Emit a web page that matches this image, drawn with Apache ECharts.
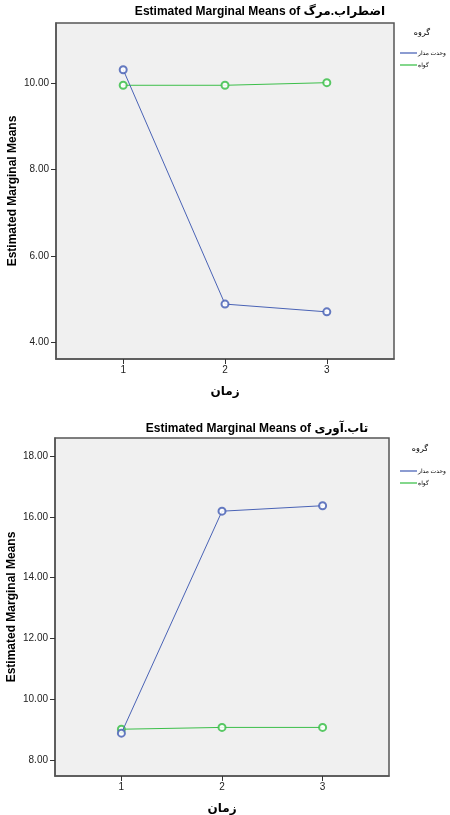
<!DOCTYPE html>
<html>
<head>
<meta charset="utf-8">
<script src="https://cdn.jsdelivr.net/npm/echarts@6/dist/echarts.min.js"></script>
<style>
  html, body { margin: 0; padding: 0; background: #fff; }
  #chart { width: 450px; height: 815px; }
</style>
</head>
<body>
<div id="chart"></div>
<script>
// times (x axis)
const times = [1, 2, 3]
const groups = ['وحدت مدار', 'گواه']
// اضطراب.مرگ
const anxietyBlue = [10.31, 4.89, 4.71]
const anxietyGreen = [9.95, 9.95, 10.01]
const anxietyTicks = [4, 6, 8, 10]
// تاب.آوری
const resilienceBlue = [8.88, 16.19, 16.37]
const resilienceGreen = [9.01, 9.07, 9.07]
const resilienceTicks = [8, 10, 12, 14, 16, 18]

const FONT = '"Liberation Sans", "DejaVu Sans", Arial, sans-serif'
const BLUE = '#4a63b6'
const GREEN = '#3cbf4a'

const chart = echarts.init(document.getElementById('chart'))

function pairs (vals) {
  return times.map((t, i) => [t, vals[i]])
}

function xAxisFor (gridIndex) {
  return {
    gridIndex: gridIndex,
    type: 'value',
    min: 0.34,
    max: 3.66,
    name: 'زمان',
    nameLocation: 'middle',
    nameGap: 27,
    nameMoveOverlap: false,
    nameTextStyle: { fontFamily: FONT, fontSize: 12, fontWeight: 'bold', color: '#000' },
    axisLine: { show: true, lineStyle: { color: '#555', width: 1.5 } },
    axisTick: { show: true, customValues: times, length: 5, lineStyle: { color: '#333' } },
    axisLabel: { customValues: times, margin: 6, fontFamily: FONT, fontSize: 10, color: '#222' },
    splitLine: { show: false }
  }
}

function yAxisFor (gridIndex, min, max, ticks) {
  return {
    gridIndex: gridIndex,
    type: 'value',
    min: min,
    max: max,
    name: 'Estimated Marginal Means',
    nameLocation: 'middle',
    nameGap: 37,
    nameMoveOverlap: false,
    nameTextStyle: { fontFamily: FONT, fontSize: 12, fontWeight: 'bold', color: '#000' },
    axisLine: { show: true, lineStyle: { color: '#555', width: 1.5 } },
    axisTick: { show: true, customValues: ticks, length: 5, lineStyle: { color: '#333' } },
    axisLabel: {
      customValues: ticks,
      margin: 7,
      fontFamily: FONT,
      fontSize: 10,
      color: '#222',
      formatter: v => v.toFixed(2)
    },
    splitLine: { show: false }
  }
}

function lineSeries (name, idx, vals, color) {
  return {
    name: name,
    type: 'line',
    xAxisIndex: idx,
    yAxisIndex: idx,
    data: pairs(vals),
    symbol: 'emptyCircle',
    symbolSize: 7,
    lineStyle: { color: color, width: 1 },
    itemStyle: { color: color, borderWidth: 0.8, opacity: 0.85 },
    emphasis: { disabled: true },
    z: name === groups[0] ? 3 : 2
  }
}

function legendFor (top) {
  return {
    left: 395,
    top: top,
    orient: 'vertical',
    icon: 'rect',
    itemWidth: 17,
    itemHeight: 1.5,
    itemGap: 6,
    textStyle: { fontFamily: FONT, fontSize: 6, color: '#000', padding: [0, 0, 0, -4] },
    data: groups
  }
}

const option = {
  animation: false,
  graphic: [
    {
      type: 'text',
      x: 260, y: 12,
      style: { text: 'Estimated Marginal Means of اضطراب.مرگ', align: 'center', verticalAlign: 'middle', font: 'bold 12px ' + FONT, fill: '#000' }
    },
    {
      type: 'text',
      x: 257, y: 429,
      style: { text: 'Estimated Marginal Means of تاب.آوری', align: 'center', verticalAlign: 'middle', font: 'bold 12px ' + FONT, fill: '#000' }
    },
    {
      type: 'text',
      x: 422, y: 33,
      style: { text: 'گروه', align: 'center', verticalAlign: 'middle', font: '8px ' + FONT, fill: '#000' }
    },
    {
      type: 'text',
      x: 420, y: 449,
      style: { text: 'گروه', align: 'center', verticalAlign: 'middle', font: '8px ' + FONT, fill: '#000' }
    }
  ],
  grid: [
    {
      left: 56, top: 23, width: 338, height: 336, outerBoundsMode: 'none',
      show: true, backgroundColor: '#f0f0f0', borderColor: '#555', borderWidth: 1.5
    },
    {
      left: 55, top: 438, width: 334, height: 338, outerBoundsMode: 'none',
      show: true, backgroundColor: '#f0f0f0', borderColor: '#555', borderWidth: 1.5
    }
  ],
  legend: [legendFor(45), legendFor(463)],
  xAxis: [xAxisFor(0), xAxisFor(1)],
  yAxis: [
    yAxisFor(0, 3.62, 11.39, anxietyTicks),
    yAxisFor(1, 7.47, 18.6, resilienceTicks)
  ],
  series: [
    lineSeries(groups[0], 0, anxietyBlue, BLUE),
    lineSeries(groups[1], 0, anxietyGreen, GREEN),
    lineSeries(groups[0], 1, resilienceBlue, BLUE),
    lineSeries(groups[1], 1, resilienceGreen, GREEN)
  ]
}

chart.setOption(option)
window.addEventListener('resize', () => {
  chart.resize()
})
</script>
</body>
</html>
